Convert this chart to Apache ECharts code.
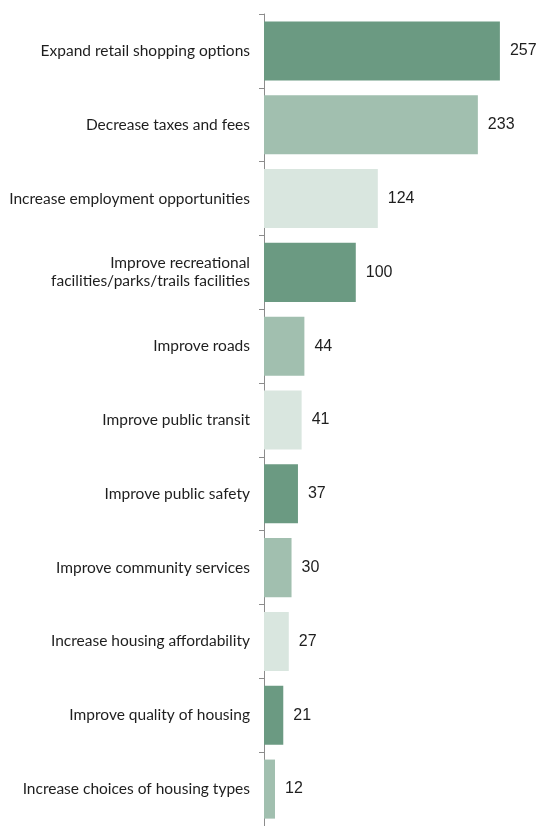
<!DOCTYPE html>
<html><head><meta charset="utf-8">
<script src="https://cdn.jsdelivr.net/npm/echarts@6/dist/echarts.min.js"></script>
<style>html,body{margin:0;padding:0;background:#fff}#c{width:538px;height:826px}</style>
</head><body><div id="c"></div>
<script>
const categories = [
  "Expand retail shopping options",
  "Decrease taxes and fees",
  "Increase employment opportunities",
  "Improve recreational\nfacilities/parks/trails facilities",
  "Improve roads",
  "Improve public transit",
  "Improve public safety",
  "Improve community services",
  "Increase housing affordability",
  "Improve quality of housing",
  "Increase choices of housing types"
];
const values = [257, 233, 124, 100, 44, 41, 37, 30, 27, 21, 12];
const palette = ["#6b9a82", "#a1bfaf", "#d9e6df"];

const chart = echarts.init(document.getElementById('c'));
chart.setOption({
  animation: false,
  grid: { left: 264, right: 17, top: 14, height: 820, containLabel: false },
  xAxis: { type: 'value', min: 0, max: 280, show: false },
  yAxis: {
    type: 'category', inverse: true, data: categories,
    axisLine: { lineStyle: { color: '#8c8c8c', width: 1 } },
    axisTick: { show: true, interval: 0, length: 5, lineStyle: { color: '#8c8c8c', width: 1 } },
    axisLabel: { interval: 0, margin: 14, fontFamily: 'Lato', fontSize: 15.5, color: '#1e1e1e', lineHeight: 18, align: 'right' }
  },
  series: [{
    type: 'bar', data: values.map((v, i) => ({ value: v, itemStyle: { color: palette[i % 3] } })),
    barCategoryGap: '20%',
    label: { show: true, position: 'right', distance: 10, fontFamily: 'Liberation Sans', fontSize: 16, color: '#1e1e1e' }
  }]
});
</script></body></html>
